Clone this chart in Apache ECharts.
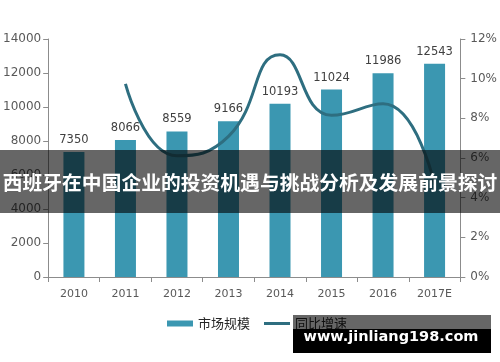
<!DOCTYPE html>
<html><head><meta charset="utf-8">
<script src="https://cdn.jsdelivr.net/npm/echarts@6/dist/echarts.min.js"></script>
<style>html,body{margin:0;padding:0;background:#fff}#c{width:500px;height:362px}</style>
</head><body><div id="c"></div>
<script>
var categories = ['2010','2011','2012','2013','2014','2015','2016','2017E'];
var marketSize = [7350, 8066, 8559, 9166, 10193, 11024, 11986, 12543];
var growthRate = [null, 0.0974, 0.0611, 0.0709, 0.1120, 0.0815, 0.0873, 0.0465];
var leftTicks = {min: 0, max: 14000, interval: 2000};
var rightTicks = {min: 0, max: 0.12, interval: 0.02};
var titleText = '西班牙在中国企业的投资机遇与挑战分析及发展前景探讨';
var watermarkText = 'www.jinliang198.com';

var chart = echarts.init(document.getElementById('c'));
var axisLineStyle = {color: '#8c8c8c', width: 1};
var tickFont = {color: '#595959', fontSize: 12, fontFamily: 'DejaVu Sans'};
chart.setOption({
  backgroundColor: '#ffffff',
  animation: false,
  grid: {left: 47, right: 37, top: 39, bottom: 85},
  legend: {
    left: 162, top: 312,
    itemWidth: 26, itemHeight: 6, itemGap: 14,
    textStyle: {color: '#262626', fontSize: 13, fontFamily: 'Noto Sans CJK SC'},
    data: [{name: '市场规模', icon: 'rect'}, {name: '同比增速', icon: 'path://M0,0 L26,0 L26,3 L0,3 Z'}]
  },
  xAxis: {
    type: 'category', data: categories,
    axisLine: {lineStyle: axisLineStyle},
    axisTick: {show: true, alignWithLabel: false, length: 5, lineStyle: axisLineStyle},
    axisLabel: {margin: 12, fontSize: 11, color: '#595959', fontFamily: 'DejaVu Sans'}
  },
  yAxis: [{
    type: 'value', min: leftTicks.min, max: leftTicks.max, interval: leftTicks.interval,
    axisLine: {show: true, lineStyle: axisLineStyle},
    axisTick: {show: true, length: 5, lineStyle: axisLineStyle},
    splitLine: {show: false},
    axisLabel: Object.assign({margin: 7, formatter: function(v){return String(v);}}, tickFont)
  }, {
    type: 'value', min: rightTicks.min, max: rightTicks.max, interval: rightTicks.interval,
    position: 'right',
    axisLine: {show: true, lineStyle: axisLineStyle},
    axisTick: {show: true, length: 5, lineStyle: axisLineStyle},
    splitLine: {show: false},
    axisLabel: Object.assign({margin: 10, formatter: function(v){return Math.round(v*100)+'%';}}, tickFont)
  }],
  series: [{
    name: '市场规模', type: 'bar', data: marketSize, barWidth: 21,
    itemStyle: {color: '#3b97b1'},
    label: {show: true, position: 'top', distance: 6, color: '#404040', fontSize: 11.5, fontFamily: 'DejaVu Sans'}
  }, {
    name: '同比增速', type: 'line', yAxisIndex: 1, data: growthRate,
    smooth: 0.5, symbol: 'none', connectNulls: false,
    lineStyle: {color: '#2e6e80', width: 3},
    itemStyle: {color: '#2e6e80'}
  }],
  graphic: [
    {type: 'rect', z: 100, shape: {x: 0, y: 150, width: 500, height: 63}, style: {fill: 'rgba(0,0,0,0.6)'}},
    {type: 'text', z: 101, x: 250, y: 182, style: {text: titleText, fill: '#ffffff', font: 'bold 19.8px "Noto Sans CJK SC"', textAlign: 'center', textVerticalAlign: 'middle'}},
    {type: 'rect', z: 100, shape: {x: 293, y: 315, width: 198, height: 14}, style: {fill: 'rgba(0,0,0,0.6)'}},
    {type: 'rect', z: 100, shape: {x: 293, y: 329, width: 198, height: 24}, style: {fill: '#000000'}},
    {type: 'text', z: 101, x: 391, y: 337, style: {text: watermarkText, fill: '#ffffff', font: 'bold 14.5px "DejaVu Sans"', textAlign: 'center', textVerticalAlign: 'middle'}}
  ]
});
</script></body></html>
